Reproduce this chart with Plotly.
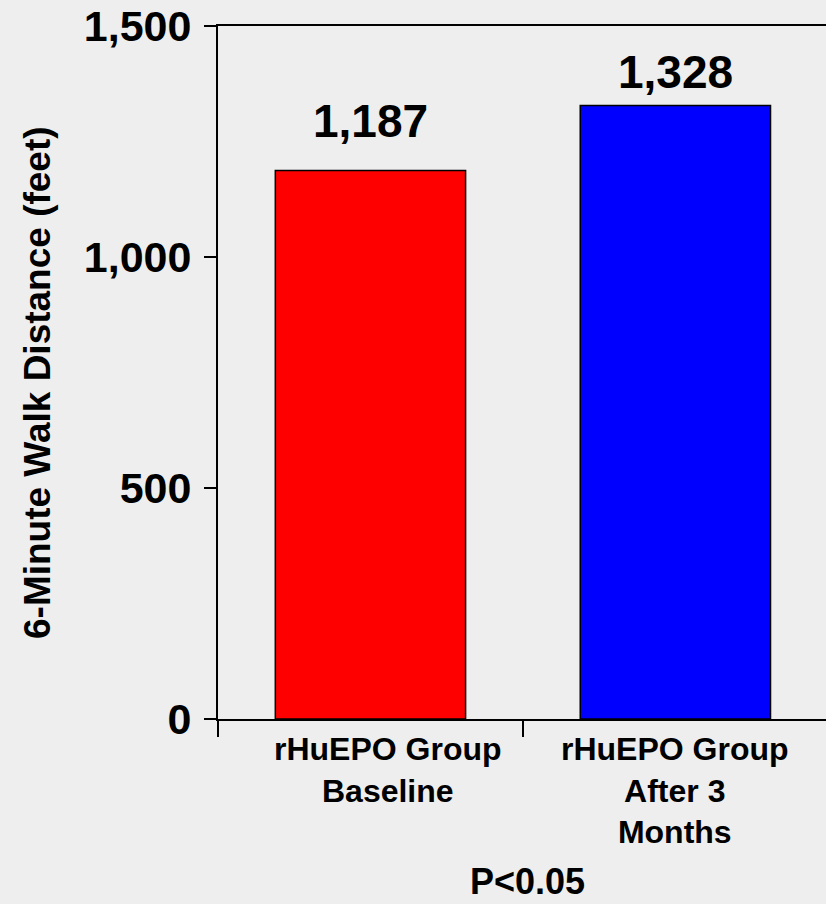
import plotly.graph_objects as go

# ---- data ----
categories = ["Baseline", "After 3 Months"]
tick_labels = ["rHuEPO Group<br>Baseline", "rHuEPO Group<br>After 3<br>Months"]
values = [1187, 1328]
bar_colors = ["#ff0000", "#0000ff"]
y_ticks = [0, 500, 1000, 1500]
y_title = "6-Minute Walk Distance (feet)"
note = "P<0.05"

# ---- style ----
FONT = "Arial, 'Liberation Sans', sans-serif"
BG = "#eeeeee"
value_label_yshift = [22, 5]
tick_label_xshift = [18, 0]

fig = go.Figure(
    go.Bar(
        x=categories,
        y=values,
        marker=dict(color=bar_colors, line=dict(color="black", width=1.5)),
        hoverinfo="skip",
    )
)

annotations = []
for c, v, s in zip(categories, values, value_label_yshift):
    annotations.append(dict(
        x=c, y=v, xref="x", yref="y", text=f"{v:,}", showarrow=False,
        yanchor="bottom", yshift=s,
        font=dict(family=FONT, size=46, color="black", weight="bold"),
    ))
for c, t, xs in zip(categories, tick_labels, tick_label_xshift):
    annotations.append(dict(
        x=c, y=0, xref="x", yref="y", text=t, showarrow=False,
        yanchor="top", yshift=-10, xshift=xs,
        font=dict(family=FONT, size=32, color="black", weight="bold"),
    ))
annotations.append(dict(
    x=0.5, y=0, xref="x", yref="paper", text=note, showarrow=False,
    yanchor="top", yshift=-140, xshift=5,
    font=dict(family=FONT, size=36, color="black", weight="bold"),
))
annotations.append(dict(
    x=-0.298, y=0.486, xref="paper", yref="paper", text=y_title, showarrow=False,
    textangle=-90, xanchor="center", yanchor="middle",
    font=dict(family=FONT, size=37, color="black", weight="bold"),
))

fig.update_layout(
    width=826, height=904,
    margin=dict(l=218, r=0, t=26, b=185),
    paper_bgcolor=BG, plot_bgcolor=BG,
    bargap=0.376,
    showlegend=False,
    annotations=annotations,
    xaxis=dict(
        type="category", range=[-0.5, 1.494],
        tickson="boundaries", ticks="outside", ticklen=16, tickwidth=2, tickcolor="black",
        showticklabels=False,
        showline=True, linecolor="black", linewidth=2, mirror=True,
        showgrid=False, zeroline=False,
    ),
    yaxis=dict(
        range=[0, 1500], tickvals=y_ticks, tickformat=",",
        ticks="outside", ticklen=12, tickwidth=2, tickcolor="black",
        ticklabelstandoff=4,
        tickfont=dict(family=FONT, size=43, color="black", weight="bold"),
        showline=True, linecolor="black", linewidth=2,
        showgrid=False, zeroline=False,
    ),
)

fig.write_html("out.html")
